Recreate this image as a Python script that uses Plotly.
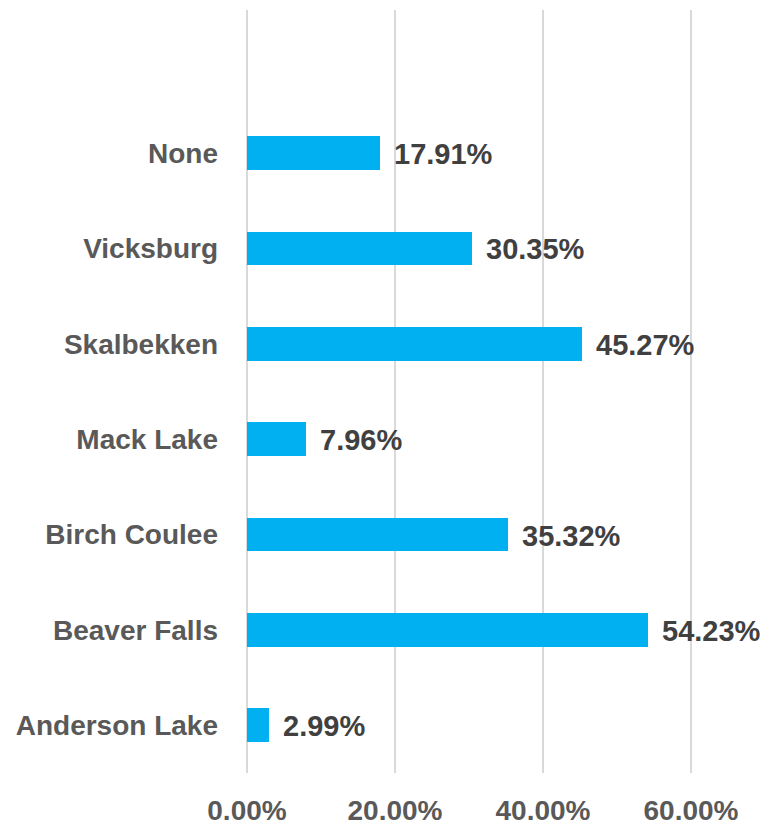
import plotly.graph_objects as go

categories = ["Anderson Lake", "Beaver Falls", "Birch Coulee", "Mack Lake", "Skalbekken", "Vicksburg", "None"]
values = [0.0299, 0.5423, 0.3532, 0.0796, 0.4527, 0.3035, 0.1791]
tick_vals = [0, 0.2, 0.4, 0.6]

FONT = "Liberation Sans, Arial, sans-serif"

fig = go.Figure(go.Bar(
    x=values, y=categories, orientation="h",
    marker=dict(color="#00B0F0", line=dict(width=0)),
    width=0.355,
    hoverinfo="skip",
))

for v, c in zip(values, categories):
    fig.add_annotation(
        x=v, y=c, text=f"<b>{v*100:.2f}%</b>", showarrow=False,
        xanchor="left", yanchor="middle", xshift=12, yshift=-1,
        font=dict(family=FONT, size=29, color="#404040"),
    )

fig.update_layout(
    width=761, height=820,
    margin=dict(l=239, r=4, t=2, b=50),
    plot_bgcolor="white", paper_bgcolor="white",
    showlegend=False,
    bargap=0,
)
fig.update_xaxes(
    range=[0, 0.7], tickvals=tick_vals, tickformat=".2%",
    showgrid=True, gridcolor="#d9d9d9", gridwidth=1.5,
    zeroline=True, zerolinecolor="#d9d9d9", zerolinewidth=1.5,
    showline=False, ticks="",
    tickfont=dict(family=FONT, size=28, color="#595959", weight="bold"),
    ticklabelstandoff=18,
)
fig.update_yaxes(
    type="category", categoryorder="array", categoryarray=categories,
    range=[-0.5, 7.5], showgrid=False, zeroline=False, showline=False, ticks="",
    tickfont=dict(family=FONT, size=28, color="#595959", weight="bold"),
    ticklabelstandoff=28,
)

fig.write_html("out.html")
